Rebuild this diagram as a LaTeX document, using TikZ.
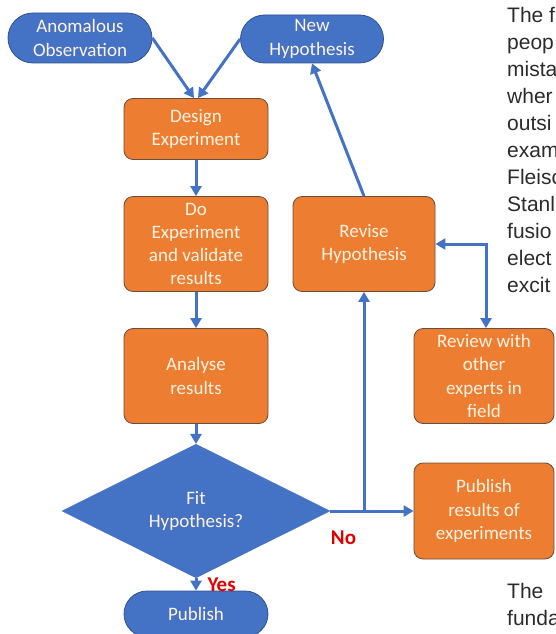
\documentclass[tikz,border=0pt]{standalone}
\usepackage{fontspec}
\setmainfont{Carlito}
\newfontfamily\bodyfont{Liberation Sans}
\usetikzlibrary{shapes.geometric,shapes.misc,arrows.meta}
\definecolor{flowblue}{HTML}{4472C4}
\definecolor{blueedge}{HTML}{2F528F}
\definecolor{boxorange}{HTML}{ED7D31}
\definecolor{orangeedge}{HTML}{6B4B3A}
\definecolor{boxtext}{HTML}{FFF3E3}
\definecolor{bodygray}{HTML}{2B2B2B}
\definecolor{labelred}{HTML}{E00000}

\begin{document}
\begin{tikzpicture}[x=1pt,y=-1pt]
\tikzstyle{every node}+=[inner sep=0pt, font=\fontsize{19}{23.3}\selectfont]
\tikzstyle{terminal}=[rounded rectangle, draw=blueedge, fill=flowblue, text=boxtext, line width=0.8pt, minimum width=144pt, minimum height=50pt, align=center]
\tikzstyle{process}=[rectangle, rounded corners=9pt, draw=orangeedge, fill=boxorange, text=boxtext, line width=0.8pt, minimum width=144pt, minimum height=95pt, align=center]
\tikzstyle{decision}=[diamond, draw=flowblue, fill=flowblue, text=boxtext, minimum width=268pt, minimum height=93pt, align=center]
\tikzstyle{flow}=[draw=flowblue, line width=3pt, -{Triangle[length=10pt,width=11pt]}]
\tikzstyle{answer}=[text=labelred, font=\fontsize{21}{24}\selectfont\bfseries]
\tikzstyle{bodytext}=[text=bodygray, align=left, font=\bodyfont\fontsize{21}{27}\selectfont]
\useasboundingbox (0,0) rectangle (555,634);
% flow chart
\node [terminal] (obs) at (80,38) {Anomalous\\Observation};
\node [terminal, minimum width=143pt, minimum height=48pt] (newhyp) at (312,39) {New\\Hypothesis};
\node [process, minimum height=61pt] (design) at (196,129) {Design\\Experiment};
\node [process] (doexp) at (196,244) {Do\\Experiment\\and validate\\results};
\node [process, minimum width=142pt] (revise) at (364,244) {Revise\\Hypothesis};
\node [process] (analyse) at (196,376) {Analyse\\results};
\node [process, minimum width=140pt] (review) at (484,376) {Review with\\other\\experts in\\field};
\node [decision] (fit) at (196,511) {Fit\\Hypothesis?};
\node [process, minimum width=140pt, minimum height=96pt] (pubres) at (484,511) {Publish\\results of\\experiments};
\node [terminal, minimum height=46pt] (publish) at (196,614) {Publish};
\draw [flow] (obs.east) -- ([xshift=-2pt]design.north);
\draw [flow] (newhyp.west) -- ([xshift=2pt]design.north);
\draw [flow] (design) -- (doexp);
\draw [flow] (doexp) -- (analyse);
\draw [flow] (analyse) -- (fit);
\draw [flow] (fit) -- node [answer, right=10pt] {Yes} (publish);
\draw [flow] (fit) -- node [answer, pos=0.16, below=18pt] {No} (pubres);
\coordinate (nojoin) at (fit.east -| revise.south);
\draw [flow] (nojoin) -- (revise.south);
\draw [flow] (revise.north) -- (newhyp.south);
\draw [flow, {Triangle[length=10pt,width=11pt]}-{Triangle[length=10pt,width=11pt]}] (revise.east) -| ([xshift=2pt]review.north);
% page text beside the chart
\node [bodytext, anchor=north west] (bodytop) at (507,6.7) {The f\\peop\\mista\\wher\\outsi\\exam\\Fleisc\\Stanl\\fusio\\elect\\excit};
\node [bodytext, anchor=north west] (bodybottom) at (507,583) {The\\funda};
\end{tikzpicture}
\end{document}
